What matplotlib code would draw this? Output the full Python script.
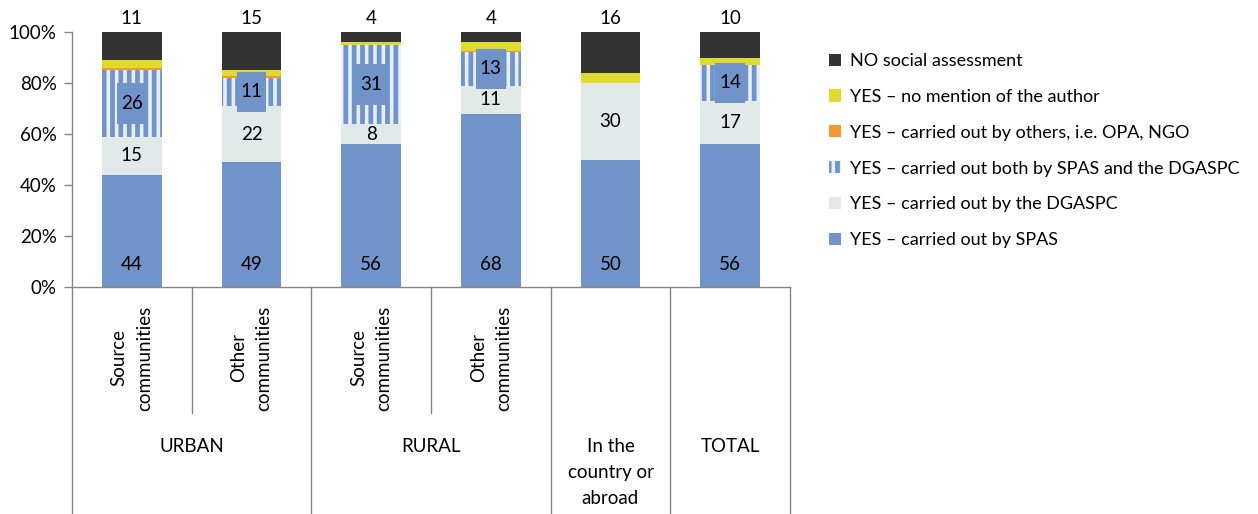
import matplotlib
matplotlib.use("Agg")
import matplotlib.pyplot as plt
from matplotlib.patches import Patch, Rectangle
from matplotlib.transforms import blended_transform_factory
import numpy as np

plt.rcParams["font.family"] = ["Lato", "DejaVu Sans"]
plt.rcParams["hatch.linewidth"] = 3.4

# Categories (two-level axis)
sub_labels = ["Source\ncommunities", "Other\ncommunities",
              "Source\ncommunities", "Other\ncommunities", "", ""]
group_labels = ["URBAN", "RURAL", "In the\ncountry or\nabroad", "TOTAL"]
group_spans = [(0, 2), (2, 4), (4, 5), (5, 6)]

# Shares (%) per answer
spas = [44, 49, 56, 68, 50, 56]
dgaspc = [15, 22, 8, 11, 30, 17]
both = [26, 11, 31, 13, 0, 14]
others = [0.8, 0.8, 0, 0.6, 0, 0]
no_author = [3.2, 2.2, 1, 3.4, 4, 3]
no_assessment = [11, 15, 4, 4, 16, 10]

names = ["YES – carried out by SPAS",
         "YES – carried out by the DGASPC",
         "YES – carried out both by SPAS and the DGASPC",
         "YES – carried out by others, i.e. OPA, NGO",
         "YES – no mention of the author",
         "NO social assessment"]

C_SPAS = "#7093c9"
C_DGASPC = "#e1e9e9"
C_STRIPE_BG = "#e6eef7"
C_OTHERS = "#f7972c"
C_NOAUTH = "#dfdb2e"
C_NO = "#333333"

fig = plt.figure(figsize=(12.58, 5.14), dpi=100)
ax = fig.add_axes([72 / 1258, 1 - 287 / 514, 718 / 1258, 255 / 514])

x = np.arange(len(spas))
w = 0.5
series = [spas, dgaspc, both, others, no_author, no_assessment]
colors = [C_SPAS, C_DGASPC, C_STRIPE_BG, C_OTHERS, C_NOAUTH, C_NO]
bottom = np.zeros(len(x))
bars = []
for i, vals in enumerate(series):
    vals = np.array(vals, dtype=float)
    if i == 2:
        ax.bar(x, vals, w, bottom=bottom, color=colors[i],
               edgecolor=C_SPAS, linewidth=0, hatch="||", zorder=2)
    else:
        ax.bar(x, vals, w, bottom=bottom, color=colors[i], linewidth=0, zorder=2)
    bars.append((vals, bottom.copy()))
    bottom = bottom + vals

fs = 13.5
ax.set_xlim(-0.5, len(x) - 0.5)
ax.set_ylim(0, 100)
ax.set_yticks(np.arange(0, 101, 20))
ax.set_yticklabels([f"{v}%" for v in range(0, 101, 20)], fontsize=fs)
ax.tick_params(axis="y", length=6, width=1, color="#868686", pad=5, direction="out")
ax.set_xticks([])
for s in ["top", "right"]:
    ax.spines[s].set_visible(False)
for s in ["left", "bottom"]:
    ax.spines[s].set_color("#868686")
    ax.spines[s].set_linewidth(1)

# Value labels
vals, bot = bars[0]
for xi, v in zip(x, vals):
    ax.annotate(f"{v:.0f}", (xi, 0), xytext=(0, 16.5), textcoords="offset points",
                ha="center", va="center", fontsize=fs, zorder=5)
vals, bot = bars[1]
for xi, v, b0 in zip(x, vals, bot):
    ax.text(xi, b0 + v / 2, f"{v:.0f}", ha="center", va="center", fontsize=fs, zorder=5)
vals, bot = bars[2]
for xi, v, b0 in zip(x, vals, bot):
    if v > 0:
        cy = b0 + v / 2
        ax.add_patch(Rectangle((xi - 0.125, cy - 8), 0.25, 16, facecolor=C_SPAS,
                               linewidth=0, zorder=4))
        ax.text(xi, cy, f"{v:.0f}", ha="center", va="center", fontsize=fs, zorder=5)
vals, bot = bars[5]
for xi, v, b0 in zip(x, vals, bot):
    ax.annotate(f"{v:.0f}", (xi, b0 + v), xytext=(0, 6), textcoords="offset points",
                ha="center", va="baseline", fontsize=fs, annotation_clip=False)

# Two-level category axis below the plot
tr = blended_transform_factory(ax.transData, ax.transAxes)
line_kw = dict(color="#868686", linewidth=1, clip_on=False, transform=tr)
full_bottom = -227 / 255
inner_bottom = -126 / 255
for g0, g1 in group_spans:
    ax.plot([g0 - 0.5, g0 - 0.5], [0, full_bottom], **line_kw)
ax.plot([len(x) - 0.5, len(x) - 0.5], [0, full_bottom], **line_kw)
for k in [1, 3]:
    ax.plot([k - 0.5, k - 0.5], [0, inner_bottom], **line_kw)

for xi, lab in zip(x, sub_labels):
    if lab:
        ax.text(xi, -71 / 255, lab, transform=tr, rotation=90, ha="center",
                va="center", fontsize=fs, multialignment="center", linespacing=1.6)

for (g0, g1), lab in zip(group_spans, group_labels):
    cx = (g0 + g1 - 1) / 2
    ax.text(cx, -151 / 255, lab, transform=tr, ha="center", va="top",
            fontsize=fs, multialignment="center", linespacing=1.65)

# Legend (top entry first)
handles = [
    Patch(facecolor=C_NO, linewidth=0),
    Patch(facecolor=C_NOAUTH, linewidth=0),
    Patch(facecolor=C_OTHERS, linewidth=0),
    Patch(facecolor=C_STRIPE_BG, edgecolor=C_SPAS, linewidth=0, hatch="||"),
    Patch(facecolor=C_DGASPC, linewidth=0),
    Patch(facecolor=C_SPAS, linewidth=0),
]
fig.legend(handles, names[::-1], loc="upper left", bbox_to_anchor=(829 / 1258, 1 - 53 / 514),
           frameon=False, fontsize=13, handlelength=0.65, handleheight=0.65,
           handletextpad=0.5, labelspacing=1.1, borderaxespad=0, borderpad=0)

fig.savefig("out.png", dpi=100)
